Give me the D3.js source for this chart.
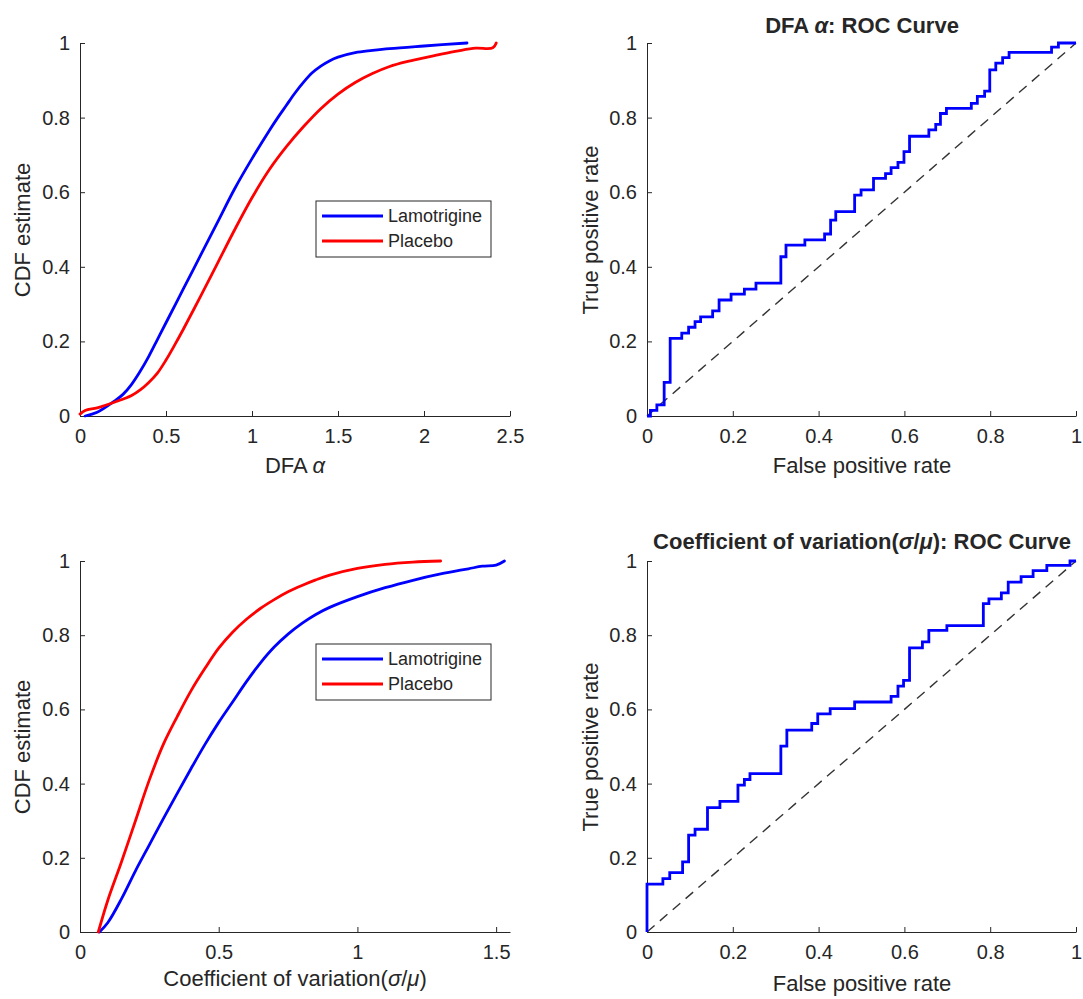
<!DOCTYPE html>
<html>
<head>
<meta charset="utf-8">
<script src="https://cdn.jsdelivr.net/npm/d3@7"></script>
<style>
  html, body { margin: 0; padding: 0; background: #fff; }
  svg { display: block; font-family: "Liberation Sans", Arial, Helvetica, sans-serif; }
</style>
</head>
<body>
<svg id="fig" width="1083" height="999"></svg>
<script>
// ---- Empirical CDF estimates: DFA alpha ----
const dfaLamotrigine = [
  [0.03, 0], [0.1, 0.01], [0.2, 0.04], [0.25, 0.058], [0.3, 0.085], [0.35, 0.12],
  [0.4, 0.16], [0.45, 0.205], [0.5, 0.25], [0.6, 0.34], [0.7, 0.43], [0.8, 0.52],
  [0.9, 0.61], [1.0, 0.69], [1.1, 0.765], [1.15, 0.8], [1.2, 0.833], [1.25, 0.866],
  [1.3, 0.895], [1.35, 0.92], [1.4, 0.938], [1.45, 0.952], [1.5, 0.962], [1.6, 0.974],
  [1.7, 0.98], [1.8, 0.985], [2.0, 0.992], [2.25, 1.0]
];
const dfaPlacebo = [
  [0, 0.005], [0.03, 0.015], [0.1, 0.022], [0.2, 0.037], [0.3, 0.055], [0.35, 0.07],
  [0.4, 0.09], [0.45, 0.115], [0.5, 0.15], [0.55, 0.19], [0.6, 0.232], [0.7, 0.32],
  [0.8, 0.41], [0.9, 0.5], [1.0, 0.585], [1.1, 0.66], [1.2, 0.722], [1.3, 0.776],
  [1.4, 0.824], [1.5, 0.863], [1.6, 0.894], [1.7, 0.918], [1.8, 0.937], [1.9, 0.95],
  [2.0, 0.96], [2.1, 0.97], [2.2, 0.979], [2.3, 0.986], [2.4, 0.987], [2.42, 1.0]
];

// ---- Empirical CDF estimates: coefficient of variation ----
const cvLamotrigine = [
  [0.07, 0], [0.1, 0.025], [0.15, 0.09], [0.2, 0.165], [0.25, 0.235], [0.3, 0.305],
  [0.35, 0.373], [0.4, 0.44], [0.45, 0.505], [0.5, 0.565], [0.55, 0.62], [0.6, 0.675],
  [0.65, 0.725], [0.7, 0.768], [0.75, 0.803], [0.8, 0.832], [0.85, 0.856], [0.9, 0.875],
  [1.0, 0.904], [1.1, 0.928], [1.2, 0.948], [1.3, 0.965], [1.4, 0.979], [1.45, 0.986],
  [1.5, 0.989], [1.53, 1.0]
];
const cvPlacebo = [
  [0.066, 0], [0.1, 0.085], [0.15, 0.19], [0.2, 0.3], [0.25, 0.41], [0.3, 0.505],
  [0.35, 0.58], [0.4, 0.65], [0.45, 0.71], [0.5, 0.765], [0.55, 0.808], [0.6, 0.843],
  [0.65, 0.872], [0.7, 0.896], [0.75, 0.917], [0.8, 0.934], [0.85, 0.949], [0.9, 0.962],
  [1.0, 0.98], [1.1, 0.991], [1.2, 0.997], [1.3, 1.0]
];

// ---- ROC curves: [false positive rate, true positive rate] ----
const rocDfa = [
  [0, 0], [0.008, 0.015], [0.023, 0.03], [0.04, 0.09], [0.054, 0.208], [0.081, 0.222],
  [0.097, 0.238], [0.112, 0.253], [0.125, 0.266], [0.153, 0.282], [0.168, 0.311],
  [0.196, 0.327], [0.227, 0.34], [0.254, 0.356], [0.312, 0.427], [0.324, 0.458],
  [0.368, 0.472], [0.414, 0.488], [0.428, 0.525], [0.44, 0.548], [0.484, 0.592],
  [0.499, 0.606], [0.528, 0.637], [0.556, 0.65], [0.569, 0.666], [0.585, 0.68],
  [0.599, 0.709], [0.612, 0.75], [0.657, 0.767], [0.673, 0.782], [0.684, 0.811],
  [0.698, 0.825], [0.756, 0.838], [0.77, 0.857], [0.787, 0.871], [0.799, 0.928],
  [0.813, 0.946], [0.829, 0.961], [0.844, 0.975], [0.943, 0.989], [0.959, 1.0], [1.0, 1.0]
];
const rocCv = [
  [0, 0], [0, 0.129], [0.037, 0.144], [0.053, 0.16], [0.083, 0.189], [0.097, 0.261],
  [0.112, 0.277], [0.141, 0.335], [0.17, 0.352], [0.212, 0.396], [0.227, 0.411],
  [0.24, 0.427], [0.312, 0.501], [0.326, 0.544], [0.384, 0.562], [0.398, 0.588],
  [0.427, 0.602], [0.484, 0.62], [0.569, 0.635], [0.585, 0.663], [0.598, 0.678],
  [0.612, 0.766], [0.642, 0.782], [0.657, 0.813], [0.699, 0.826], [0.784, 0.885],
  [0.797, 0.898], [0.826, 0.914], [0.842, 0.943], [0.872, 0.958], [0.9, 0.974],
  [0.932, 0.988], [0.986, 1.0], [1.0, 1.0]
];

// ---- Tick values ----
const ticksUnit = [0, 0.2, 0.4, 0.6, 0.8, 1];
const ticksDfa = [0, 0.5, 1, 1.5, 2, 2.5];
const ticksCv = [0, 0.5, 1, 1.5];

const seriesNames = ["Lamotrigine", "Placebo"];
const seriesColors = ["#0000ff", "#ff0000"];

const svg = d3.select("#fig");
const INK = "#262626";
const fmt = d => d3.format("~g")(d);

function makeAxes(box, xDomain, xTicks) {
  const x = d3.scaleLinear().domain(xDomain).range([box.x0, box.x1]);
  const y = d3.scaleLinear().domain([0, 1]).range([box.y1, box.y0]);
  const g = svg.append("g");

  const ax = g.append("g")
    .attr("transform", `translate(0,${box.y1})`)
    .call(d3.axisBottom(x).tickValues(xTicks).tickFormat(fmt)
      .tickSizeInner(-5).tickSizeOuter(0).tickPadding(13));
  const ay = g.append("g")
    .attr("transform", `translate(${box.x0},0)`)
    .call(d3.axisLeft(y).tickValues(ticksUnit).tickFormat(fmt)
      .tickSizeInner(-5).tickSizeOuter(0).tickPadding(10));

  [ax, ay].forEach(a => {
    a.attr("font-family", null).attr("font-size", null);
    a.select(".domain").attr("stroke", INK).attr("stroke-width", 1);
    a.selectAll(".tick line").attr("stroke", INK);
    a.selectAll(".tick text").attr("fill", INK).style("font-size", "20px");
  });
  return { g, x, y };
}

function addLabel(x, y, parts, opts = {}) {
  const t = svg.append("text")
    .attr("x", x).attr("y", y)
    .attr("text-anchor", "middle")
    .attr("fill", INK)
    .style("font-size", "22px")
    .style("font-weight", opts.bold ? "bold" : "normal");
  if (opts.rotate) t.attr("transform", `rotate(-90,${x},${y})`);
  parts.forEach(p => {
    t.append("tspan")
      .style("font-style", p.italic ? "italic" : "normal")
      .text(p.t);
  });
  return t;
}

function drawLegend(x0, y0) {
  const w = 175, h = 56;
  svg.append("rect").attr("x", x0).attr("y", y0).attr("width", w).attr("height", h)
    .attr("fill", "#fff").attr("stroke", INK).attr("stroke-width", 1);
  seriesNames.forEach((name, i) => {
    const yy = y0 + 15 + i * 25;
    svg.append("line").attr("x1", x0 + 6).attr("x2", x0 + 67)
      .attr("y1", yy).attr("y2", yy)
      .attr("stroke", seriesColors[i]).attr("stroke-width", 2.8);
    svg.append("text").attr("x", x0 + 72).attr("y", yy + 6)
      .attr("fill", INK).style("font-size", "18px").text(name);
  });
}

function drawCdf(axes, lam, pla) {
  const line = d3.line().x(d => axes.x(d[0])).y(d => axes.y(d[1]))
    .curve(d3.curveCatmullRom.alpha(0.5));
  [lam, pla].forEach((data, i) => {
    axes.g.append("path").datum(data)
      .attr("d", line).attr("fill", "none")
      .attr("stroke", seriesColors[i]).attr("stroke-width", 2.8)
      .attr("stroke-linejoin", "round").attr("stroke-linecap", "round");
  });
}

function drawRoc(axes, data) {
  const diag = d3.line().x(d => axes.x(d)).y(d => axes.y(d));
  axes.g.append("path").datum([0, 1])
    .attr("d", diag).attr("fill", "none")
    .attr("stroke", "#333").attr("stroke-width", 1.4)
    .attr("stroke-dasharray", "10,7");
  const step = d3.line().x(d => axes.x(d[0])).y(d => axes.y(d[1])).curve(d3.curveStepAfter);
  axes.g.append("path").datum(data)
    .attr("d", step).attr("fill", "none")
    .attr("stroke", "#0000ff").attr("stroke-width", 2.8)
    .attr("stroke-linejoin", "miter");
}

// Panel boxes
const boxTL = { x0: 80, x1: 510, y0: 43, y1: 416 };
const boxTR = { x0: 647, x1: 1076, y0: 43, y1: 416 };
const boxBL = { x0: 80, x1: 510, y0: 561, y1: 932 };
const boxBR = { x0: 647, x1: 1076, y0: 561, y1: 932 };

// Top-left: CDF of DFA alpha
const tl = makeAxes(boxTL, [0, 2.5], ticksDfa);
drawCdf(tl, dfaLamotrigine, dfaPlacebo);
drawLegend(316, 201);
addLabel(295, 473, [{ t: "DFA " }, { t: "α", italic: true }]);
addLabel(30, 230, [{ t: "CDF estimate" }], { rotate: true });

// Top-right: ROC for DFA alpha
const tr = makeAxes(boxTR, [0, 1], ticksUnit);
drawRoc(tr, rocDfa);
addLabel(862, 33, [{ t: "DFA " }, { t: "α", italic: true }, { t: ": ROC Curve" }], { bold: true });
addLabel(862, 473, [{ t: "False positive rate" }]);
addLabel(598, 230, [{ t: "True positive rate" }], { rotate: true });

// Bottom-left: CDF of coefficient of variation
const bl = makeAxes(boxBL, [0, 1.55], ticksCv);
drawCdf(bl, cvLamotrigine, cvPlacebo);
drawLegend(316, 644);
addLabel(295, 986, [{ t: "Coefficient of variation(" }, { t: "σ", italic: true }, { t: "/" }, { t: "μ", italic: true }, { t: ")" }]);
addLabel(30, 747, [{ t: "CDF estimate" }], { rotate: true });

// Bottom-right: ROC for coefficient of variation
const br = makeAxes(boxBR, [0, 1], ticksUnit);
drawRoc(br, rocCv);
addLabel(862, 549, [{ t: "Coefficient of variation(" }, { t: "σ", italic: true }, { t: "/" }, { t: "μ", italic: true }, { t: "): ROC Curve" }], { bold: true });
addLabel(862, 991, [{ t: "False positive rate" }]);
addLabel(598, 747, [{ t: "True positive rate" }], { rotate: true });
</script>
</body>
</html>
